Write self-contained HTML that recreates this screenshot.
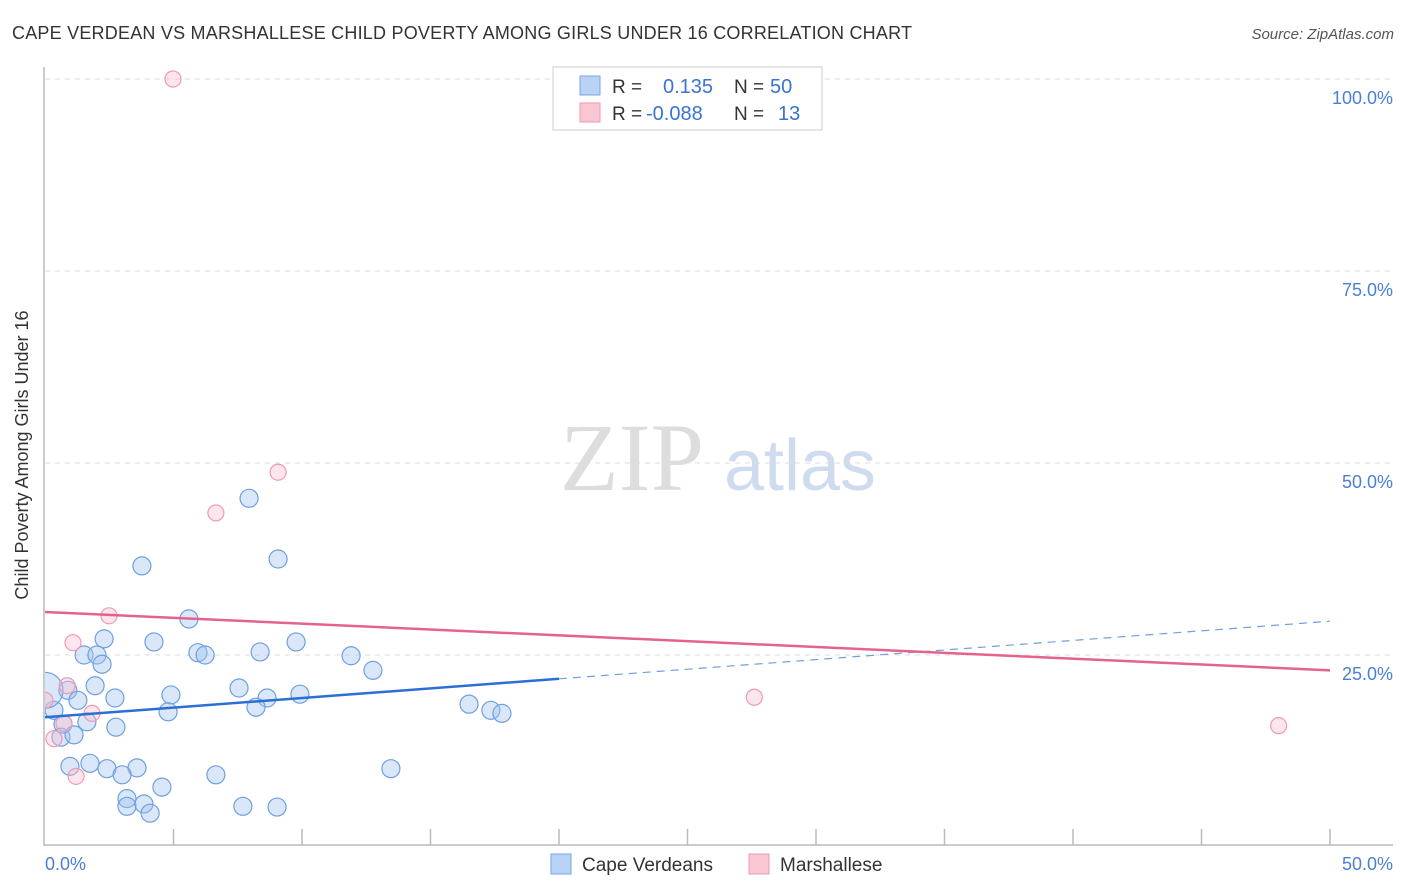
<!DOCTYPE html>
<html><head><meta charset="utf-8"><style>
body{margin:0;background:#fff;font-family:"Liberation Sans",sans-serif;}
#wrap{position:relative;width:1406px;height:892px;overflow:hidden;}
</style></head><body>
<div id="wrap">
<svg id="svg" width="1406" height="892" xmlns="http://www.w3.org/2000/svg">
<defs><clipPath id="plotclip"><rect x="45" y="60" width="1360" height="786"/></clipPath></defs>
<text x="12" y="39" font-size="18" fill="#333" textLength="900">CAPE VERDEAN VS MARSHALLESE CHILD POVERTY AMONG GIRLS UNDER 16 CORRELATION CHART</text>
<text x="1394" y="39" font-size="15" fill="#555" font-style="italic" text-anchor="end">Source: ZipAtlas.com</text>
<text x="28" y="455" font-size="18" fill="#333" text-anchor="middle" transform="rotate(-90 28 455)">Child Poverty Among Girls Under 16</text>
<g><text x="632" y="490" font-size="96" fill="#ddd" font-family="Liberation Serif,serif" text-anchor="middle">ZIP</text><text x="800" y="490" font-size="72" fill="#cfdcf0" text-anchor="middle">atlas</text></g>
<g id="grid"></g><g id="marks" clip-path="url(#plotclip)"></g>
<line x1="44" y1="67" x2="44" y2="846" stroke="#bbb" stroke-width="1.5"/>
<line x1="44" y1="845" x2="1393" y2="845" stroke="#bbb" stroke-width="1.5"/>
<text x="45" y="870" font-size="18" fill="#4a7fd4">0.0%</text>
<text x="1393" y="870" font-size="18" fill="#4a7fd4" text-anchor="end">50.0%</text>
<g>
<rect x="553" y="67" width="269" height="63" fill="#fff" stroke="#ccc"/>
<rect x="580" y="76" width="20" height="19" fill="#b9d3f4" stroke="#7aa6e6"/>
<rect x="580" y="103" width="20" height="19" fill="#f9c6d4" stroke="#ee9ab3"/>
<text x="612" y="93" font-size="19" fill="#333">R =</text><text x="663" y="93" font-size="20" fill="#3a73d1">0.135</text>
<text x="734" y="93" font-size="19" fill="#333">N =</text><text x="770" y="93" font-size="20" fill="#3a73d1">50</text>
<text x="612" y="120" font-size="19" fill="#333">R =</text><text x="646" y="120" font-size="20" fill="#3a73d1">-0.088</text>
<text x="734" y="120" font-size="19" fill="#333">N =</text><text x="778" y="120" font-size="20" fill="#3a73d1">13</text>
</g>
<g>
<rect x="551" y="854" width="20" height="20" fill="#b9d3f4" stroke="#7aa6e6"/>
<text x="582" y="871" font-size="19" fill="#333">Cape Verdeans</text>
<rect x="749" y="854" width="20" height="20" fill="#f9c6d4" stroke="#ee9ab3"/>
<text x="780" y="871" font-size="19" fill="#333">Marshallese</text>
</g>
</svg>
</div>
<script>
const yTicks=[25,50,75,100];
const yTickLabels=["25.0%","50.0%","75.0%","100.0%"];
const xTicks=[5,10,15,20,25,30,35,40,45,50];
const blueX=[3.77,7.94,9.07,5.60,2.30,4.24,9.77,1.52,2.02,5.95,6.23,8.37,11.91,2.22,12.76,1.95,0.89,7.55,0.35,1.28,2.72,4.90,8.64,9.92,8.21,4.79,16.5,17.35,17.78,0.70,1.63,2.76,0.62,1.13,0.97,1.75,2.41,3.58,3.00,6.65,13.46,4.55,3.19,3.19,3.85,4.09,7.70,9.03,0];
const blueY=[36.6,45.4,37.5,29.7,27.1,26.7,26.7,25.0,25.0,25.3,25.0,25.4,24.9,23.8,23.0,21.0,20.4,20.7,17.8,19.1,19.4,19.8,19.4,19.9,18.2,17.6,18.6,17.8,17.4,16.0,16.3,15.6,14.3,14.6,10.5,10.9,10.2,10.3,9.4,9.4,10.2,7.8,6.3,5.3,5.6,4.4,5.3,5.2,20.4];
const pinkX=[4.98,9.07,6.65,2.49,1.09,0.86,1.83,0.74,0.35,1.21,27.6,48.0,0];
const pinkY=[100,48.8,43.5,30.1,26.6,21.0,17.4,16.1,14.1,9.2,19.5,15.8,19.1];
const blueTrend=[16.9,29.4];
const pinkTrend=[30.6,23.0];
const X=v=>45+v/50*1285, Y=v=>847-v/100*768;
const NS="http://www.w3.org/2000/svg";
function mk(tag,attrs,parent){const e=document.createElementNS(NS,tag);for(const k in attrs)e.setAttribute(k,attrs[k]);parent.appendChild(e);return e;}
const grid=document.getElementById('grid'),marks=document.getElementById('marks'),svg=document.getElementById('svg');
yTicks.forEach((t,i)=>{
 const l=mk('line',{x1:45,x2:1393,y1:Y(t),y2:Y(t),stroke:'#ddd','stroke-dasharray':'5,5'},grid);
 
 
 const tx=mk('text',{x:1393,y:Y(t)+25,'font-size':18,fill:'#4a7fd4','text-anchor':'end'},svg);
 tx.textContent=yTickLabels[i];
 
 
});
xTicks.forEach(t=>{
 const l=mk('line',{x1:X(t),x2:X(t),y1:829,y2:845,stroke:'#bbb','stroke-width':1.5},svg);
 
 
});
blueX.forEach((x,i)=>{
 const r=i===blueX.length-1?18:9;
 const c=mk('circle',{cx:X(x),cy:Y(blueY[i]),r:r,fill:'rgba(160,196,240,0.4)',stroke:'#6f9fe0','stroke-width':1.2},marks);
 
 
});
pinkX.forEach((x,i)=>{
 const c=mk('circle',{cx:X(x),cy:Y(pinkY[i]),r:8,fill:'rgba(248,190,208,0.4)',stroke:'#ee9ab3','stroke-width':1.2},marks);
 
 
});
const bAt=x=>blueTrend[0]+(blueTrend[1]-blueTrend[0])*x/50;
const bl=mk('line',{x1:X(0),y1:Y(bAt(0)),x2:X(20),y2:Y(bAt(20)),stroke:'#2a6fd6','stroke-width':2.5},marks);


const bd=mk('line',{x1:X(20),y1:Y(bAt(20)),x2:X(50),y2:Y(bAt(50)),stroke:'#6f9fe0','stroke-width':1.2,'stroke-dasharray':'8,6'},marks);


const pl=mk('line',{x1:X(0),y1:Y(pinkTrend[0]),x2:X(50),y2:Y(pinkTrend[1]),stroke:'#e5628e','stroke-width':2.5},marks);


</script>
</body></html>
